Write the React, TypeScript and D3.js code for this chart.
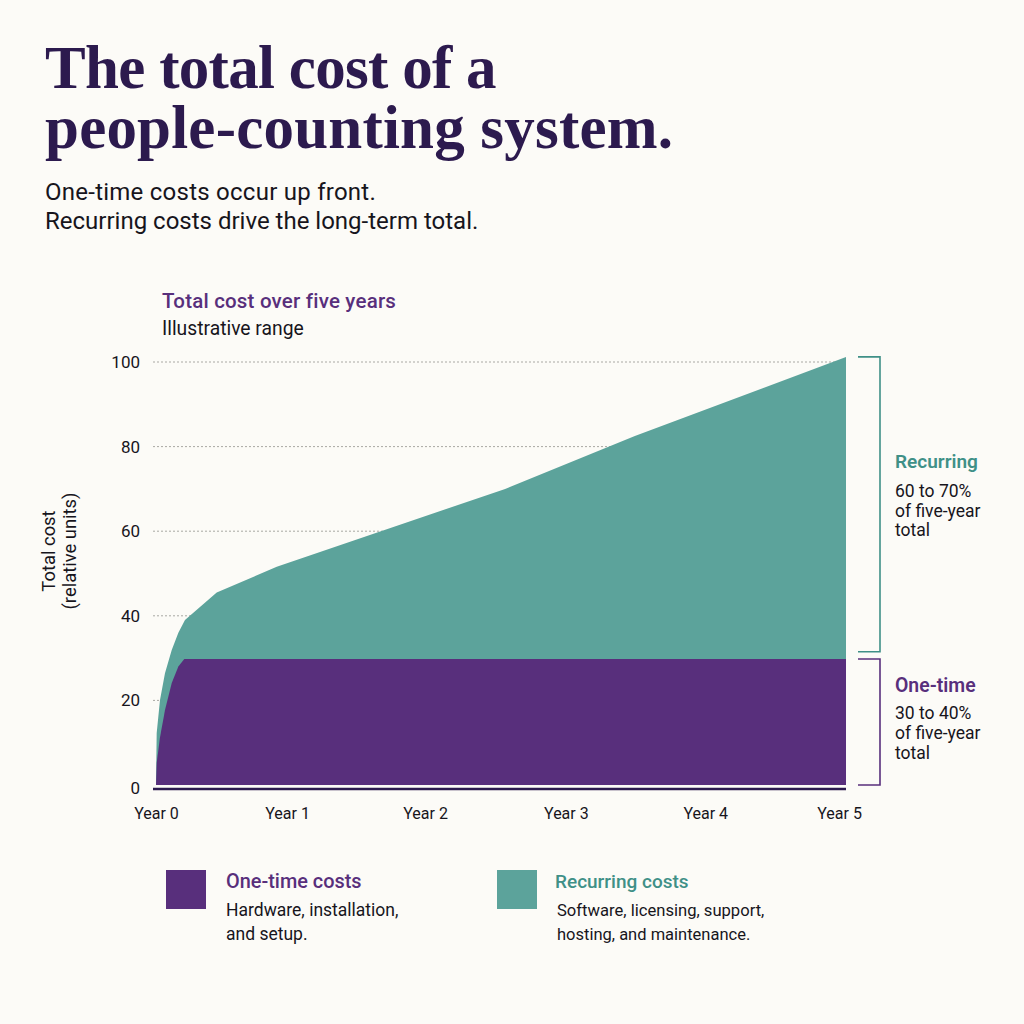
import React, { useRef, useEffect } from 'react';
import * as d3 from 'd3';

const oneTimeYears = [0, 0.005, 0.029, 0.065, 0.114, 0.162, 0.205, 5];
const oneTimeValues = [0, 5.2, 11.3, 17.7, 24.1, 28, 29.8, 29.8];
const totalYears = [0, 0.005, 0.029, 0.065, 0.114, 0.162, 0.21, 0.44, 0.875, 2.53, 3.47, 5];
const totalValues = [0, 12.3, 20.1, 26.4, 31.9, 36, 39, 45.5, 51.6, 70, 82.5, 101.2];
const yTicks = [0, 20, 40, 60, 80, 100];
const xTickYears = [0, 0.95, 1.95, 2.97, 3.98, 4.95];
const xTickLabels = ['Year 0', 'Year 1', 'Year 2', 'Year 3', 'Year 4', 'Year 5'];

const PURPLE = '#582f7c';
const TEAL = '#5ca39b';
const TEAL_TEXT = '#3f9087';
const INK = '#17151c';
const SANS = 'Roboto, sans-serif';

export default function App() {
  const svgRef = useRef<SVGSVGElement>(null);

  useEffect(() => {
    document.body.style.margin = '0';
    document.body.style.background = '#fcfbf7';
    if (!svgRef.current) return;
    const svg = d3.select(svgRef.current);
    svg.selectAll('*').remove();

    const x = d3.scaleLinear().domain([0, 5]).range([156, 846]);
    const y = d3.scaleLinear().domain([0, 100]).range([785, 362]);

    const text = (
      s: string,
      tx: number,
      ty: number,
      size: number,
      fill = INK,
      weight = 400,
      family = SANS,
      spacing = 0
    ) =>
      svg
        .append('text')
        .attr('x', tx)
        .attr('y', ty)
        .attr('font-family', family)
        .attr('font-size', size)
        .attr('font-weight', weight)
        .attr('fill', fill)
        .attr('letter-spacing', spacing)
        .text(s);

    // Title block
    const SERIF = '"Liberation Serif", serif';
    text('The total cost of a', 45, 88, 61, '#2c1a4e', 700, SERIF, -0.7);
    text('people-counting system.', 45, 148, 61, '#2c1a4e', 700, SERIF, 0.2);
    text('One-time costs occur up front.', 45, 200, 24, INK, 400, SANS, 0.25);
    text('Recurring costs drive the long-term total.', 45, 229, 24);

    text('Total cost over five years', 162, 308, 20.5, PURPLE, 500, SANS, 0.2);
    text('Illustrative range', 162, 335, 19.3);

    // Grid lines
    svg
      .append('g')
      .selectAll('line')
      .data(yTicks.filter((d) => d > 0))
      .enter()
      .append('line')
      .attr('x1', 153)
      .attr('x2', 846)
      .attr('y1', (d) => y(d))
      .attr('y2', (d) => y(d))
      .attr('stroke', '#a9a8a3')
      .attr('stroke-width', 1)
      .attr('stroke-dasharray', '2,2');

    // Areas
    const totalPts = totalYears.map((t, i) => [t, totalValues[i]] as [number, number]);
    const oneTimePts = oneTimeYears.map((t, i) => [t, oneTimeValues[i]] as [number, number]);
    const area = d3
      .area<[number, number]>()
      .x((d) => x(d[0]))
      .y0(y(0))
      .y1((d) => y(d[1]));
    svg.append('path').attr('d', area(totalPts)!).attr('fill', TEAL);
    svg.append('path').attr('d', area(oneTimePts)!).attr('fill', PURPLE);

    // Baseline
    svg
      .append('line')
      .attr('x1', 153)
      .attr('x2', 846)
      .attr('y1', 789)
      .attr('y2', 789)
      .attr('stroke', '#2c1a4e')
      .attr('stroke-width', 2.5);

    // Y axis
    const yAxis = svg
      .append('g')
      .attr('transform', 'translate(140,0)')
      .call(d3.axisLeft(y).tickValues(yTicks).tickSize(0).tickPadding(0));
    yAxis.select('.domain').remove();
    yAxis
      .selectAll('text')
      .attr('fill', INK)
      .attr('font-family', SANS)
      .attr('font-size', 17)
      .attr('dy', (d: any) => (d === 0 ? '0.5em' : '0.32em'));

    // X axis
    const xAxis = svg
      .append('g')
      .attr('transform', 'translate(0,808)')
      .call(
        d3
          .axisBottom(x)
          .tickValues(xTickYears)
          .tickFormat((_, i) => xTickLabels[i])
          .tickSize(0)
          .tickPadding(0)
      );
    xAxis.select('.domain').remove();
    xAxis
      .selectAll('text')
      .attr('fill', INK)
      .attr('font-family', SANS)
      .attr('font-size', 16);

    // Y title
    const yTitle = svg
      .append('g')
      .attr('transform', 'translate(55,551) rotate(-90)')
      .attr('text-anchor', 'middle')
      .attr('font-family', SANS)
      .attr('font-size', 18.4)
      .attr('fill', INK);
    yTitle.append('text').text('Total cost');
    yTitle.append('text').attr('y', 21).text('(relative units)');

    // Brackets
    const bracket = (color: string, top: number, bottom: number) => {
      const path = d3.path();
      path.moveTo(858, top);
      path.lineTo(880, top);
      path.lineTo(880, bottom);
      path.lineTo(858, bottom);
      svg
        .append('path')
        .attr('d', path.toString())
        .attr('fill', 'none')
        .attr('stroke', color)
        .attr('stroke-width', 1.6);
    };
    bracket(TEAL_TEXT, y(101.2), y(31.5));
    bracket(PURPLE, y(29.8), y(0));

    text('Recurring', 895, 468, 19, TEAL_TEXT, 600);
    text('60 to 70%', 895, 497, 17.5);
    text('of five-year', 895, 516.5, 17.5);
    text('total', 895, 536, 17.5);
    text('One-time', 895, 692, 19.4, PURPLE, 600);
    text('30 to 40%', 895, 719, 17.5);
    text('of five-year', 895, 739, 17.5);
    text('total', 895, 758.5, 17.5);

    // Legend
    svg.append('rect').attr('x', 166).attr('y', 870).attr('width', 40).attr('height', 39).attr('fill', PURPLE);
    svg.append('rect').attr('x', 497).attr('y', 870).attr('width', 40).attr('height', 39).attr('fill', TEAL);
    text('One-time costs', 226, 887.5, 19.9, PURPLE, 500);
    text('Hardware, installation,', 226, 916, 17.5);
    text('and setup.', 226, 940, 17.5);
    text('Recurring costs', 555, 887.5, 19, TEAL_TEXT, 500);
    text('Software, licensing, support,', 557, 916, 16.6);
    text('hosting, and maintenance.', 557, 940, 16.5);
  }, []);

  return (
    <svg
      ref={svgRef}
      width={1024}
      height={1024}
      style={{ display: 'block', background: '#fcfbf7' }}
    />
  );
}
